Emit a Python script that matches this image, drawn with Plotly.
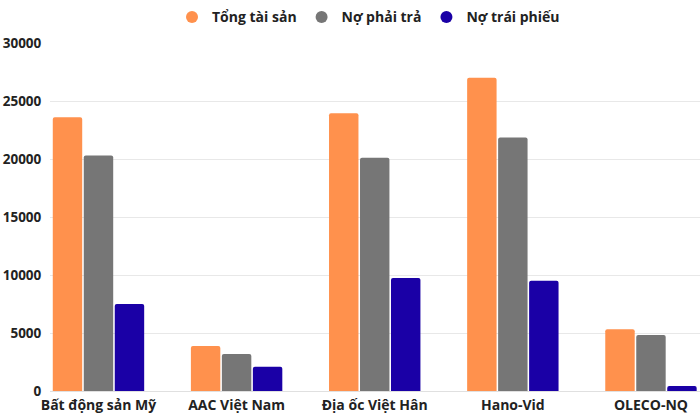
import plotly.graph_objects as go

# Dữ liệu (tỷ đồng)
companies = ['Bất động sản Mỹ', 'AAC Việt Nam', 'Địa ốc Việt Hân', 'Hano-Vid', 'OLECO-NQ']
tong_tai_san = [23600, 3880, 23950, 27000, 5330]
no_phai_tra = [20300, 3200, 20100, 21850, 4820]
no_trai_phieu = [7500, 2080, 9750, 9500, 430]

series = [
    ('Tổng tài sản', tong_tai_san, '#FF914D'),
    ('Nợ phải trả', no_phai_tra, '#767676'),
    ('Nợ trái phiếu', no_trai_phieu, '#1A00A6'),
]

fig = go.Figure()

for name, vals, color in series:
    fig.add_trace(go.Bar(x=companies, y=vals, name=name, showlegend=False,
                         marker=dict(color=color, cornerradius=2, line=dict(width=0))))

# legend chấm tròn
for name, vals, color in series:
    fig.add_trace(go.Scatter(x=[None], y=[None], mode='markers', name=name,
                             marker=dict(symbol='circle', size=14, color=color)))

fig.update_layout(
    width=700, height=414,
    margin=dict(l=50, r=0, t=42.7, b=23.3),
    paper_bgcolor='white', plot_bgcolor='white',
    font=dict(family='Open Sans', color='#222222'),
    barmode='group', bargap=0.327, bargroupgap=0.05,
    legend=dict(orientation='h', x=0.49, xanchor='center', y=0.958, yanchor='middle',
                yref='container', font=dict(size=14, weight='bold'), itemsizing='constant'),
    showlegend=True,
)

fig.update_xaxes(range=[-0.351, 4.355], showgrid=False, showline=False, zeroline=False,
                 tickfont=dict(size=14, weight='bold', color='#222222'), automargin=False,
                 ticklabelstandoff=4, fixedrange=True)
fig.update_yaxes(range=[0, 30000], dtick=5000, tickformat='d', showgrid=True,
                 gridcolor='#e8e8e8', zeroline=True, zerolinecolor='#e0e0e0', zerolinewidth=1,
                 tickfont=dict(size=13.5, weight='bold', color='#222222'),
                 ticks='outside', ticklen=5, tickcolor='rgba(0,0,0,0)',
                 automargin=False, fixedrange=True)

# bỏ margin mặc định của body để hình nằm sát góc trang
fig.write_html("out.html", config={'displayModeBar': False},
               post_script="document.body.style.margin='0';")
